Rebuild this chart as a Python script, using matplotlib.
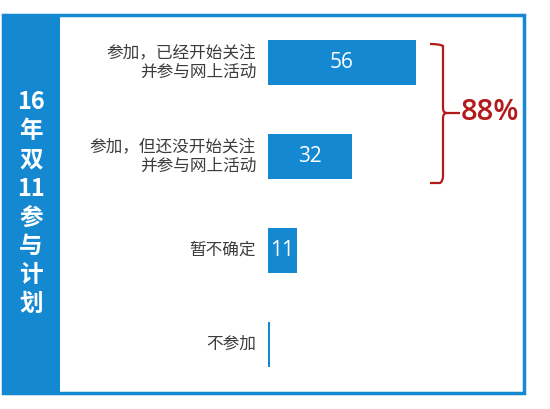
import matplotlib.pyplot as plt
from matplotlib.patches import Rectangle
from matplotlib.path import Path
from matplotlib.patches import PathPatch

plt.rcParams['font.family'] = ['Noto Sans CJK SC', 'DejaVu Sans']

# data
categories = ['参加，已经开始关注\n并参与网上活动', '参加，但还没开始关注\n并参与网上活动', '暂不确定', '不参加']
values = [56, 32, 11, 0.7]
value_labels = ['56', '32', '11', '']
side_title = '16\n年\n双\n11\n参\n与\n计\n划'
total_label = '88%'

blue = '#1488D0'
red = '#B51A1A'
W, H = 550, 409

fig = plt.figure(figsize=(5.5, 4.09), dpi=100)

# background layer in pixel coordinates
bg = fig.add_axes([0, 0, 1, 1])
bg.set_xlim(0, W)
bg.set_ylim(H, 0)
bg.axis('off')
bg.add_patch(Rectangle((3, 15), 521, 378, facecolor='white', edgecolor=blue, lw=2.5))
bg.add_patch(Rectangle((3, 15), 57, 378, facecolor=blue, edgecolor='none'))
bg.text(31, 203, side_title, color='white', fontsize=17, fontweight='bold',
        ha='center', va='center', linespacing=1.25)

# bracket
verts = [(430, 44), (440, 44), (443, 46), (443, 52),
         (443, 108), (443, 113), (447, 113), (460, 113),
         (447, 113), (443, 113), (443, 118),
         (443, 176), (443, 181), (440, 183), (430, 183)]
codes = [Path.MOVETO, Path.CURVE3, Path.CURVE3, Path.LINETO,
         Path.LINETO, Path.CURVE3, Path.CURVE3, Path.LINETO,
         Path.MOVETO, Path.CURVE3, Path.CURVE3,
         Path.LINETO, Path.CURVE3, Path.CURVE3, Path.LINETO]
bg.add_patch(PathPatch(Path(verts, codes), facecolor='none', edgecolor=red, lw=1.6))
bg.text(490, 112, total_label, color=red, fontsize=21, fontweight='semibold',
        ha='center', va='center', family=['Open Sans', 'DejaVu Sans'])

# bar chart
ax = fig.add_axes([268 / W, 1 - 393 / H, 256 / W, 378 / H])
ax.patch.set_alpha(0)
y = list(range(len(categories)))
ax.barh(y, values, height=0.48, color=blue)
ax.set_xlim(0, 97)
ax.set_ylim(3.516, -0.505)
for i, (v, lab) in enumerate(zip(values, value_labels)):
    if lab:
        ax.text(v / 2, i, lab, color='white', fontsize=15, ha='center', va='center',
                family=['Open Sans', 'DejaVu Sans'])
    ax.text(-12 / 2.64, i, categories[i], color='#3c3c3c', fontsize=12,
            fontweight='medium', ha='right', va='center', linespacing=1.15)
ax.axis('off')

fig.savefig('out.png', dpi=100)
